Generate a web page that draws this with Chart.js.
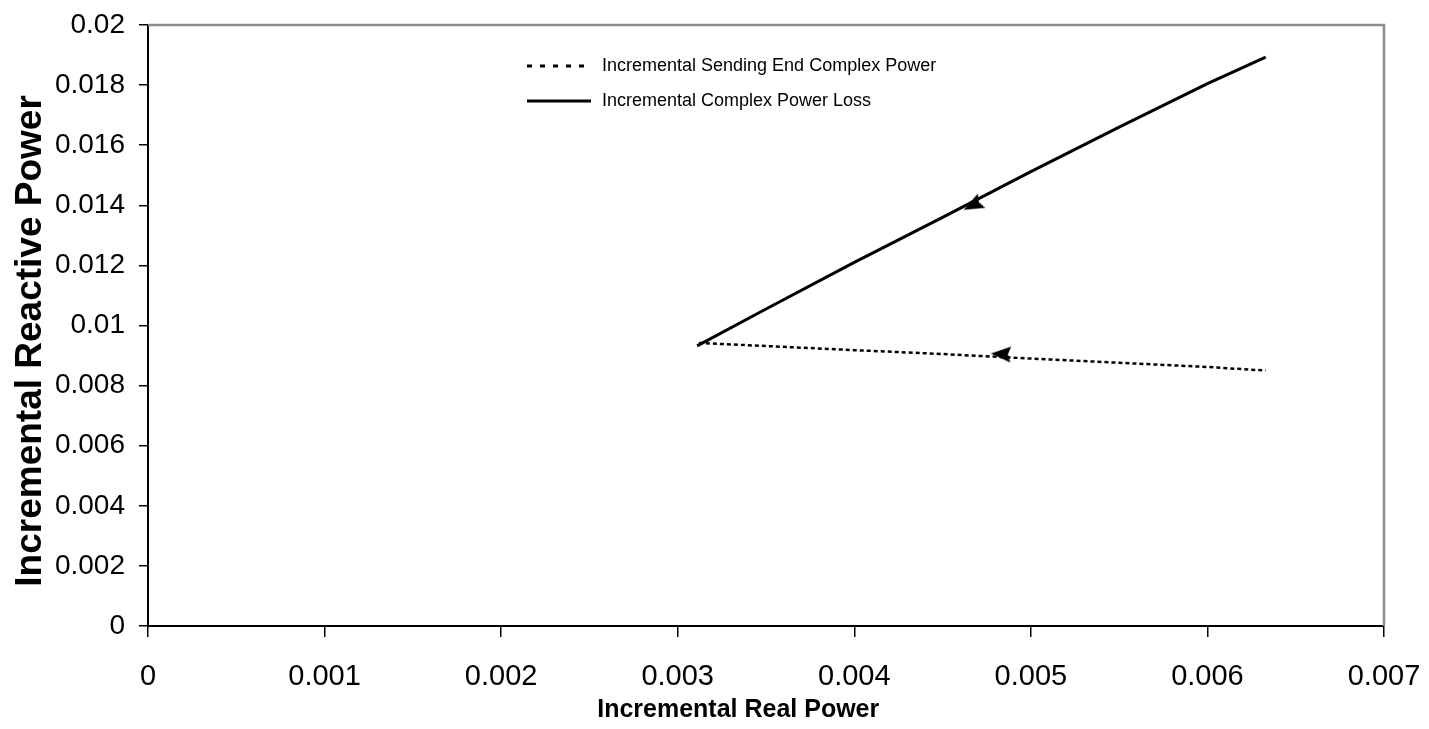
<!DOCTYPE html>
<html>
<head>
<meta charset="utf-8">
<script src="https://cdn.jsdelivr.net/npm/chart.js@4.4.1/dist/chart.umd.min.js"></script>
<style>
  html, body { margin: 0; padding: 0; background: #fff; }
  #wrap { position: relative; width: 1429px; height: 729px; }
  #legend { position: absolute; left: 527px; top: 48px; font-family: 'Liberation Sans', Arial, sans-serif; font-size: 18px; color: #000; }
  #legend div { display: flex; align-items: center; height: 35px; }
  #legend svg { width: 64px; height: 6px; margin-right: 11px; }
</style>
</head>
<body>
<div id="wrap">
  <canvas id="c" width="1429" height="729"></canvas>
  <div id="legend">
    <div><svg><line x1="0" y1="3" x2="62" y2="3" stroke="#000" stroke-width="3" stroke-dasharray="5 8"/></svg><span>Incremental Sending End Complex Power</span></div>
    <div><svg><line x1="0" y1="3" x2="64" y2="3" stroke="#000" stroke-width="3"/></svg><span>Incremental Complex Power Loss</span></div>
  </div>
</div>
<script>
const FONT = "'Liberation Sans', Arial, sans-serif";

// incremental sending end complex power (dashed)
const sendP = [0.00312, 0.0040, 0.0045, 0.0050, 0.0055, 0.0060, 0.00633];
const sendQ = [0.00942, 0.00918, 0.00905, 0.00890, 0.00876, 0.00862, 0.00850];

// incremental complex power loss (solid)
const lossP = [0.00311, 0.0035, 0.0040, 0.0045, 0.0050, 0.0055, 0.0060, 0.00633];
const lossQ = [0.00932, 0.01055, 0.01210, 0.01360, 0.01512, 0.01660, 0.01805, 0.01893];

// direction arrows on each curve (angle = clockwise from up)
const arrowSend = { x: 0.00483, y: 0.00905, angle: 273 };
const arrowLoss = { x: 0.00467, y: 0.01400, angle: 243 };

const xTicks = [0, 0.001, 0.002, 0.003, 0.004, 0.005, 0.006, 0.007];
const yTicks = [0, 0.002, 0.004, 0.006, 0.008, 0.01, 0.012, 0.014, 0.016, 0.018, 0.02];

const pts = (xs, ys) => xs.map((x, i) => ({ x, y: ys[i] }));
const lbl = v => String(Number(v.toFixed(4)));

// arrowhead, apex up; Chart.js rotates it per point
function arrowHead() {
  const c = document.createElement('canvas');
  c.width = 16; c.height = 20;
  const g = c.getContext('2d');
  g.fillStyle = '#000';
  g.beginPath();
  g.moveTo(8, 0);
  g.lineTo(16, 20);
  g.lineTo(8, 17);
  g.lineTo(0, 20);
  g.closePath();
  g.fill();
  return c;
}

const frame = {
  id: 'frame',
  afterDraw(chart) {
    const { ctx, chartArea: a } = chart;
    ctx.save();
    ctx.strokeStyle = '#8c8c8c';
    ctx.lineWidth = 2.5;
    ctx.beginPath();
    ctx.moveTo(a.left, a.top);
    ctx.lineTo(a.right, a.top);
    ctx.lineTo(a.right, a.bottom);
    ctx.stroke();
    ctx.restore();
  }
};

new Chart(document.getElementById('c'), {
  type: 'scatter',
  data: {
    datasets: [{
      label: 'Incremental Sending End Complex Power',
      data: pts(sendP, sendQ),
      showLine: true,
      borderColor: '#000',
      borderWidth: 2.5,
      borderDash: [4, 3],
      pointRadius: 0
    }, {
      label: 'Incremental Complex Power Loss',
      data: pts(lossP, lossQ),
      showLine: true,
      borderColor: '#000',
      borderWidth: 3,
      pointRadius: 0
    }, {
      label: 'arrows',
      data: [arrowSend, arrowLoss],
      pointStyle: arrowHead(),
      pointRadius: 10,
      pointRotation: [arrowSend.angle, arrowLoss.angle]
    }]
  },
  options: {
    responsive: false,
    animation: false,
    layout: { padding: { left: 0, right: 45, top: 25, bottom: 0 } },
    plugins: { legend: { display: false }, tooltip: { enabled: false } },
    scales: {
      x: {
        type: 'linear',
        min: 0, max: 0.007,
        afterBuildTicks: s => { s.ticks = xTicks.map(v => ({ value: v })); },
        afterFit: s => { s.height = 103; s.paddingLeft = 0; s.paddingRight = 0; },
        border: { color: '#000', width: 2 },
        grid: { drawOnChartArea: false, drawTicks: true, tickLength: 11, color: '#000', lineWidth: 1.5 },
        ticks: { callback: lbl, color: '#000', padding: 23, maxRotation: 0, font: { family: FONT, size: 29 } },
        title: { display: true, text: 'Incremental Real Power        ', color: '#000', padding: { top: 0, bottom: 4 }, font: { family: FONT, size: 25, weight: 'bold' } }
      },
      y: {
        type: 'linear',
        min: 0, max: 0.02,
        afterBuildTicks: s => { s.ticks = yTicks.map(v => ({ value: v })); },
        afterFit: s => { s.width = 148; s.paddingTop = 0; s.paddingBottom = 0; },
        border: { color: '#000', width: 2 },
        grid: { drawOnChartArea: false, drawTicks: true, tickLength: 9, color: '#000', lineWidth: 1.5 },
        ticks: { callback: lbl, color: '#000', padding: 14, font: { family: FONT, size: 28 } },
        title: { display: true, text: 'Incremental Reactive Power   ', color: '#000', padding: { top: 9, bottom: 0 }, font: { family: FONT, size: 37, weight: 'bold' } }
      }
    }
  },
  plugins: [frame]
});
</script>
</body>
</html>
